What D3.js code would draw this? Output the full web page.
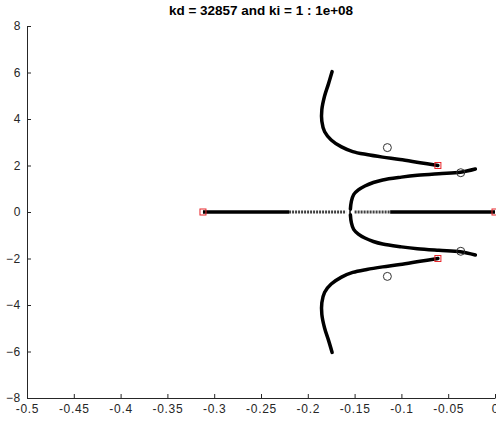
<!DOCTYPE html>
<html>
<head>
<meta charset="utf-8">
<script src="https://cdn.jsdelivr.net/npm/d3@7"></script>
<style>
  body { margin: 0; background: #fff; }
  svg { display: block; font-family: "Liberation Sans", Arial, Helvetica, sans-serif; }
  .tick text { fill: #262626; font-size: 12px; letter-spacing: 0.7px; }
  .axis path, .axis line { stroke: #262626; }
</style>
</head>
<body>
<div class="visual"><svg></svg></div>
<script>
"use strict";

var width = 496,
    height = 423,
    title = "kd = 32857 and ki = 1 : 1e+08";

// x ticks, y ticks
var xTicks = [-0.5, -0.45, -0.4, -0.35, -0.3, -0.25, -0.2, -0.15, -0.1, -0.05, 0],
    yTicks = [-8, -6, -4, -2, 0, 2, 4, 6, 8];

// open loop poles (red squares) and zeros (circles)
var poleX = [-0.312, 0, -0.061, -0.061],
    poleY = [0, 0, 2.0, -2.0];
var zeroX = [-0.115, -0.115, -0.0366, -0.0366],
    zeroY = [2.77, -2.77, 1.69, -1.69];

// locus branches
var upperX = [-0.061, -0.08, -0.1015, -0.12, -0.137, -0.152, -0.164, -0.175, -0.182, -0.185, -0.185, -0.182, -0.178, -0.174],
    upperY = [2.0, 2.12, 2.26, 2.36, 2.47, 2.6, 2.8, 3.1, 3.45, 3.9, 4.4, 5.0, 5.5, 6.04];
var lowerX = [-0.061, -0.08, -0.1015, -0.12, -0.137, -0.152, -0.164, -0.175, -0.182, -0.185, -0.185, -0.182, -0.178, -0.174],
    lowerY = [-2.0, -2.12, -2.26, -2.36, -2.47, -2.6, -2.8, -3.1, -3.45, -3.9, -4.4, -5.0, -5.5, -6.04];
var breakUpX = [-0.1545, -0.1535, -0.151, -0.146, -0.139, -0.13, -0.12, -0.1, -0.083, -0.06, -0.037, -0.021],
    breakUpY = [0.12, 0.45, 0.75, 0.95, 1.12, 1.27, 1.38, 1.5, 1.58, 1.65, 1.71, 1.85];
var breakDnX = [-0.1545, -0.1535, -0.151, -0.146, -0.139, -0.13, -0.12, -0.1, -0.083, -0.06, -0.037, -0.021],
    breakDnY = [-0.12, -0.45, -0.75, -0.95, -1.12, -1.27, -1.38, -1.5, -1.58, -1.65, -1.71, -1.85];

// real axis pieces: start, end, solid or sparse
var realStart = [-0.312, -0.22, -0.156, -0.150, -0.112],
    realEnd = [-0.22, -0.159, -0.1535, -0.112, 0],
    realSolid = [true, false, false, false, true];

var margin = { top: 26, right: 1, bottom: 25, left: 27 };

var x = d3.scaleLinear().domain([-0.5, 0]).range([margin.left, width - margin.right]);
var y = d3.scaleLinear().domain([-8, 8]).range([height - margin.bottom, margin.top]);

var svg = d3.select("body").select(".visual").select("svg")
    .attr("width", width)
    .attr("height", height);

svg.append("text")
    .attr("x", (margin.left + width - margin.right) / 2)
    .attr("y", 15)
    .attr("text-anchor", "middle")
    .attr("font-size", 13.5)
    .attr("font-weight", "bold")
    .attr("fill", "#000")
    .text(title);

// axes, MATLAB style ticks pointing inward
svg.append("g")
    .attr("class", "axis")
    .attr("transform", "translate(0," + y(-8) + ")")
    .call(d3.axisBottom(x).tickValues(xTicks).tickSizeInner(-4).tickSizeOuter(0)
        .tickFormat(function (d) { return d === 0 ? "0" : String(d); }))
  .selectAll("text")
    .attr("y", 6);

svg.append("g")
    .attr("class", "axis")
    .attr("transform", "translate(" + x(-0.5) + ",0)")
    .call(d3.axisLeft(y).tickValues(yTicks).tickSizeInner(-4).tickSizeOuter(0))
  .selectAll("text")
    .attr("x", -6);

var line = d3.line()
    .x(function (d) { return x(d[0]); })
    .y(function (d) { return y(d[1]); })
    .curve(d3.curveCatmullRom);

function zipXY(xs, ys) {
    return xs.map(function (v, i) { return [v, ys[i]]; });
}

var plot = svg.append("g");

// real axis locus
realStart.forEach(function (s, i) {
    plot.append("path")
        .attr("d", line([[s, 0], [realEnd[i], 0]]))
        .attr("fill", "none")
        .attr("stroke", "#000")
        .attr("stroke-width", realSolid[i] ? 3.5 : 3)
        .attr("stroke-dasharray", realSolid[i] ? null : "2,1")
        .attr("opacity", realSolid[i] ? 1 : 0.75);
});

[zipXY(upperX, upperY), zipXY(lowerX, lowerY), zipXY(breakUpX, breakUpY), zipXY(breakDnX, breakDnY)]
    .forEach(function (branch) {
        plot.append("path")
            .attr("d", line(branch))
            .attr("fill", "none")
            .attr("stroke", "#000")
            .attr("stroke-width", 3.5)
            .attr("stroke-linecap", "round");
    });

// zeros
plot.selectAll(".zero")
    .data(zipXY(zeroX, zeroY))
    .enter().append("circle")
    .attr("class", "zero")
    .attr("cx", function (d) { return x(d[0]); })
    .attr("cy", function (d) { return y(d[1]); })
    .attr("r", 4)
    .attr("fill", "none")
    .attr("stroke", "#333")
    .attr("stroke-width", 1);

// poles
plot.selectAll(".pole")
    .data(zipXY(poleX, poleY))
    .enter().append("rect")
    .attr("class", "pole")
    .attr("x", function (d) { return x(d[0]) - 3; })
    .attr("y", function (d) { return y(d[1]) - 3; })
    .attr("width", 6)
    .attr("height", 6)
    .attr("fill", "none")
    .attr("stroke", "#e8262b")
    .attr("stroke-width", 1);
</script>
</body>
</html>
